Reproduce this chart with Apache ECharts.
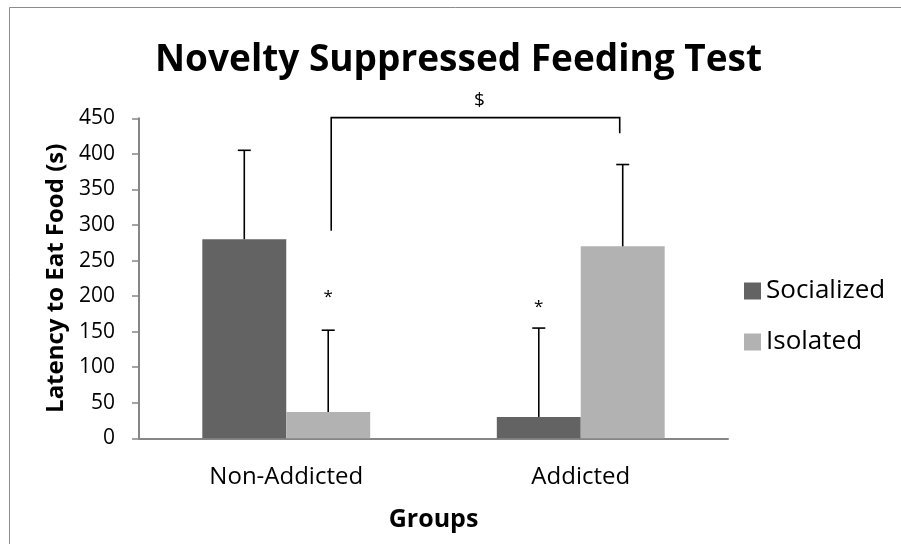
<!DOCTYPE html>
<html>
<head>
<meta charset="utf-8">
<script src="https://cdn.jsdelivr.net/npm/echarts@6/dist/echarts.min.js"></script>
<style>html,body{margin:0;padding:0;background:#fff}#c{width:901px;height:544px}</style>
</head>
<body>
<div id="c"></div>
<script>
const categories = ['Non-Addicted', 'Addicted'];
const socialized = [280, 30];
const isolated = [37, 270];
const socializedErr = [125, 125];
const isolatedErr = [115, 115];
const yTicks = [0, 50, 100, 150, 200, 250, 300, 350, 400, 450];
// significance asterisks: [categoryIndex, seriesName, value position]
const stars = [[0, 'Isolated', 205], [1, 'Socialized', 191]];
// bracket between Non-Addicted Isolated and Addicted Isolated: left bottom, right bottom, top
const bracket = [292, 429, 451];
const bracketLabel = '$';

const FONT = 'Open Sans';
const BAR_FRAC = 0.285;
const colors = { Socialized: '#636363', Isolated: '#b2b2b2' };

const chart = echarts.init(document.getElementById('c'), null, { renderer: 'canvas' });

function errSeries(name, vals, errs, sign) {
  return {
    type: 'custom', name: name + ' err', silent: true, z: 5, clip: false,
    data: vals.map((v, i) => [i, v, errs[i]]),
    renderItem: function (params, api) {
      const base = api.coord([api.value(0), api.value(1)]);
      const top = api.coord([api.value(0), api.value(1) + api.value(2)]);
      const bw = api.size([1, 0])[0] * BAR_FRAC;
      const x = base[0] + sign * bw / 2;
      const st = { stroke: '#000', lineWidth: 1.6 };
      return {
        type: 'group',
        children: [
          { type: 'line', shape: { x1: x, y1: base[1], x2: x, y2: top[1] }, style: st },
          { type: 'line', shape: { x1: x - 6.5, y1: top[1], x2: x + 6.5, y2: top[1] }, style: st }
        ]
      };
    }
  };
}

const starSeries = {
  type: 'custom', name: 'stars', silent: true, z: 6, clip: false,
  data: stars.map(s => [s[0], s[2], s[1] === 'Socialized' ? -1 : 1]),
  renderItem: function (params, api) {
    const p = api.coord([api.value(0), api.value(1)]);
    const bw = api.size([1, 0])[0] * BAR_FRAC;
    const x = p[0] + api.value(2) * bw / 2;
    return {
      type: 'text',
      style: { text: '*', x: x, y: p[1] + 5, align: 'center', verticalAlign: 'middle',
        font: '17px "' + FONT + '"', fill: '#000' }
    };
  }
};

const bracketSeries = {
  type: 'custom', name: 'bracket', silent: true, z: 6, clip: false,
  data: [[0, 1, bracket[0], bracket[1], bracket[2]]],
  renderItem: function (params, api) {
    const bw = api.size([1, 0])[0] * BAR_FRAC;
    const l = api.coord([api.value(0), api.value(2)]);
    const r = api.coord([api.value(1), api.value(3)]);
    const t = api.coord([api.value(0), api.value(4)]);
    const xl = l[0] + bw / 2 + 3, xr = r[0] + bw / 2 - 3;
    const st = { stroke: '#000', lineWidth: 1.6, fill: null };
    return {
      type: 'group',
      children: [
        { type: 'polyline', shape: { points: [[xl, l[1]], [xl, t[1]], [xr, t[1]], [xr, r[1]]] }, style: st },
        { type: 'text', style: { text: bracketLabel, x: (xl + xr) / 2 + 4, y: t[1] - 17, align: 'center',
          verticalAlign: 'middle', font: '19px "' + FONT + '"', fill: '#000' } }
      ]
    };
  }
};

chart.setOption({
  animation: false,
  backgroundColor: '#fff',
  textStyle: { fontFamily: FONT },
  title: {
    text: 'Novelty Suppressed Feeding Test',
    left: 155, top: 42, padding: 0,
    textStyle: { fontFamily: FONT, fontWeight: 'bold', fontSize: 37, color: '#000' }
  },
  graphic: [{
    type: 'rect', silent: true,
    shape: { x: 9.5, y: 7.5, width: 1200, height: 1200 },
    style: { fill: null, stroke: '#8c8c8c', lineWidth: 1 }
  }],
  legend: {
    orient: 'vertical', left: 744, top: 278, padding: 0,
    itemWidth: 17, itemHeight: 17, itemGap: 25, itemTextGap: 7,
    icon: 'rect',
    data: ['Socialized', 'Isolated'],
    textStyle: { fontFamily: FONT, fontSize: 26, color: '#000', lineHeight: 26 }
  },
  grid: { left: 139, right: 173, top: 118.3, bottom: 105.7, containLabel: false },
  xAxis: {
    type: 'category', data: categories,
    name: 'Groups', nameLocation: 'middle', nameGap: 69,
    nameTextStyle: { fontFamily: FONT, fontWeight: 'bold', fontSize: 25, color: '#000' },
    axisLine: { lineStyle: { color: '#868686', width: 2 } },
    axisTick: { show: false },
    axisLabel: { fontFamily: FONT, fontSize: 24, color: '#000', margin: 27 }
  },
  yAxis: {
    type: 'value', min: 0, max: 450, interval: 50,
    name: 'Latency to Eat Food (s)', nameLocation: 'middle', nameGap: 71,
    nameTextStyle: { fontFamily: FONT, fontWeight: 'bold', fontSize: 24, color: '#000' },
    splitLine: { show: false },
    axisLine: { show: true, lineStyle: { color: '#868686', width: 2 } },
    axisTick: { show: true, length: 7, lineStyle: { color: '#868686', width: 1.5 } },
    axisLabel: { fontFamily: FONT, fontSize: 21, color: '#000', margin: 24,
      formatter: v => yTicks.indexOf(v) >= 0 ? String(v) : '' }
  },
  series: [
    { type: 'bar', name: 'Socialized', data: socialized, barWidth: (BAR_FRAC * 100) + '%', barGap: '0%',
      itemStyle: { color: colors.Socialized } },
    { type: 'bar', name: 'Isolated', data: isolated, barWidth: (BAR_FRAC * 100) + '%', barGap: '0%',
      itemStyle: { color: colors.Isolated } },
    errSeries('Socialized', socialized, socializedErr, -1),
    errSeries('Isolated', isolated, isolatedErr, 1),
    starSeries,
    bracketSeries
  ]
});
</script>
</body>
</html>
